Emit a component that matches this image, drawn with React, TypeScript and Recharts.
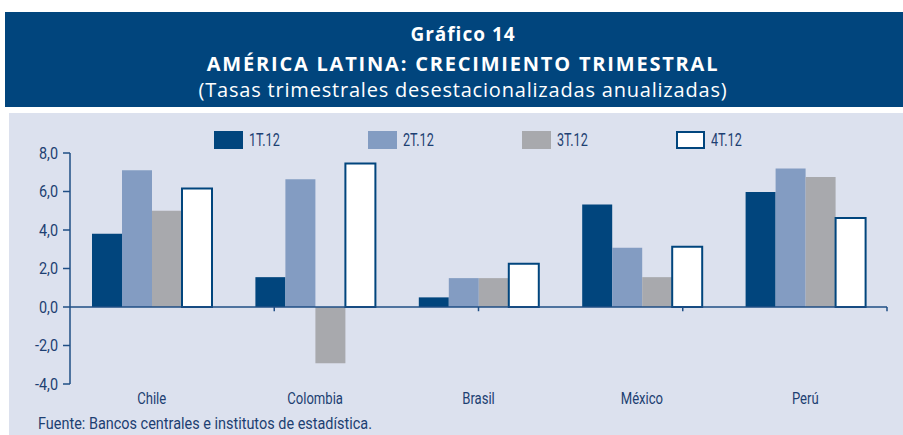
import { BarChart, Bar, XAxis, YAxis, ReferenceLine } from "recharts";

// países y trimestres
const paises = ["Chile", "Colombia", "Brasil", "México", "Perú"];
const t1 = [3.8, 1.55, 0.5, 5.33, 5.97];
const t2 = [7.1, 6.63, 1.5, 3.08, 7.19];
const t3 = [5.0, -2.92, 1.5, 1.55, 6.75];
const t4 = [6.15, 7.45, 2.25, 3.13, 4.62];
const yTicks = [-4, -2, 0, 2, 4, 6, 8];

const series = [
    { key: "t1", label: "1T.12", fill: "#01457d", stroke: "none" },
    { key: "t2", label: "2T.12", fill: "#839cc2", stroke: "none" },
    { key: "t3", label: "3T.12", fill: "#a8a9ad", stroke: "none" },
    { key: "t4", label: "4T.12", fill: "#ffffff", stroke: "#01457d" },
];

const data = paises.map((p, i) => ({ pais: p, t1: t1[i], t2: t2[i], t3: t3[i], t4: t4[i] }));
// límites entre categorías, para las marcas sobre la línea del cero
const limites = paises.map((_, i) => i + 1);

const AZUL = "#1f4e85";
const TEXTO = "#1d3f72";
const FONT = "Roboto, 'Noto Sans', sans-serif";

// no hay fuente condensada instalada: se estrecha el texto a mano
const NarrowTick = (props: any) => {
    const { x, y, payload, textAnchor, sx, dy, size, fmt } = props;
    const label = fmt ? fmt(payload.value) : payload.value;
    return (
        <g transform={`translate(${x},${y}) scale(${sx},1)`}>
            <text x={0} y={0} dy={dy} textAnchor={textAnchor} fill={TEXTO} fontSize={size} fontFamily={FONT}>{label}</text>
        </g>
    );
};

const fmtY = (v: number) => v.toFixed(1).replace(".", ",");

export default function App() {
    return (
        <div style={{ position: "relative", width: 903, height: 435, background: "#fff", overflow: "hidden" }}>
            <style>{"body{margin:0}"}</style>
            <div style={{
                position: "absolute", left: 5, top: 12, width: 898, height: 95, background: "#01457d",
                color: "#fff", fontFamily: "'Open Sans', Lato, sans-serif", textAlign: "center"
            }}>
                <div style={{ position: "absolute", left: 0, right: 0, top: 11, fontSize: 19, fontWeight: 700, lineHeight: "22px", paddingLeft: 18, letterSpacing: 1 }}>Gráfico 14</div>
                <div style={{ position: "absolute", left: 0, right: 0, top: 40, fontSize: 20, fontWeight: 700, lineHeight: "24px", paddingLeft: 18, letterSpacing: 1.8 }}>AMÉRICA LATINA: CRECIMIENTO TRIMESTRAL</div>
                <div style={{ position: "absolute", left: 0, right: 0, top: 65, fontSize: 20, lineHeight: "26px", paddingLeft: 18, letterSpacing: 0.8 }}>(Tasas trimestrales desestacionalizadas anualizadas)</div>
            </div>
            <div style={{ position: "absolute", left: 9, top: 113, width: 894, height: 322, background: "#dce1ee" }} />

            <div style={{ position: "absolute", left: 0, top: 0 }}>
                <BarChart width={903} height={435} data={data} barGap={0} barSize={30}
                    margin={{ top: 153, right: 16, bottom: 0, left: 10 }}>
                    <XAxis dataKey="pais" height={51} axisLine={false} tickLine={false} tickSize={0} tickMargin={8} interval={0}
                        tick={<NarrowTick sx={0.77} dy="0.71em" size={17} />} />
                    <XAxis xAxisId="n" type="number" domain={[0, 5]} hide />
                    <YAxis width={60} domain={[-4, 8]} ticks={yTicks} interval={0} tickSize={7} tickMargin={5}
                        axisLine={{ stroke: AZUL, strokeWidth: 1.5 }} tickLine={{ stroke: AZUL, strokeWidth: 1.5 }}
                        tick={<NarrowTick sx={0.9} dy="0.355em" size={16} fmt={fmtY} />} />
                    {series.map(s => (
                        <Bar key={s.key} dataKey={s.key} fill={s.fill} stroke={s.stroke}
                            strokeWidth={s.stroke === "none" ? 0 : 2} isAnimationActive={false} />
                    ))}
                    <ReferenceLine y={0} stroke={AZUL} strokeWidth={1.5} />
                    {limites.map(x => (
                        <ReferenceLine key={x} xAxisId="n" segment={[{ x, y: 0 }, { x, y: -0.22 }]} stroke={AZUL} strokeWidth={1.5} />
                    ))}
                </BarChart>
            </div>

            <div style={{ position: "absolute", left: 214, top: 131, display: "flex", fontFamily: FONT, fontSize: 18, color: TEXTO }}>
                {series.map(s => (
                    <div key={s.key} style={{ width: 154, display: "flex", alignItems: "center" }}>
                        <span style={{
                            display: "inline-block", width: 29, height: 18, background: s.fill, boxSizing: "border-box",
                            border: s.stroke === "none" ? "none" : `2px solid ${s.stroke}`
                        }} />
                        <span style={{ marginLeft: 6, lineHeight: "18px", display: "inline-block", transform: "scaleX(0.7)", transformOrigin: "left center" }}>{s.label}</span>
                    </div>
                ))}
            </div>

            <div style={{
                position: "absolute", left: 38, top: 413, fontFamily: FONT, fontSize: 17, color: TEXTO, whiteSpace: "nowrap",
                transform: "scaleX(0.85)", transformOrigin: "left top"
            }}>
                Fuente: Bancos centrales e institutos de estadística.
            </div>
        </div>
    );
}
